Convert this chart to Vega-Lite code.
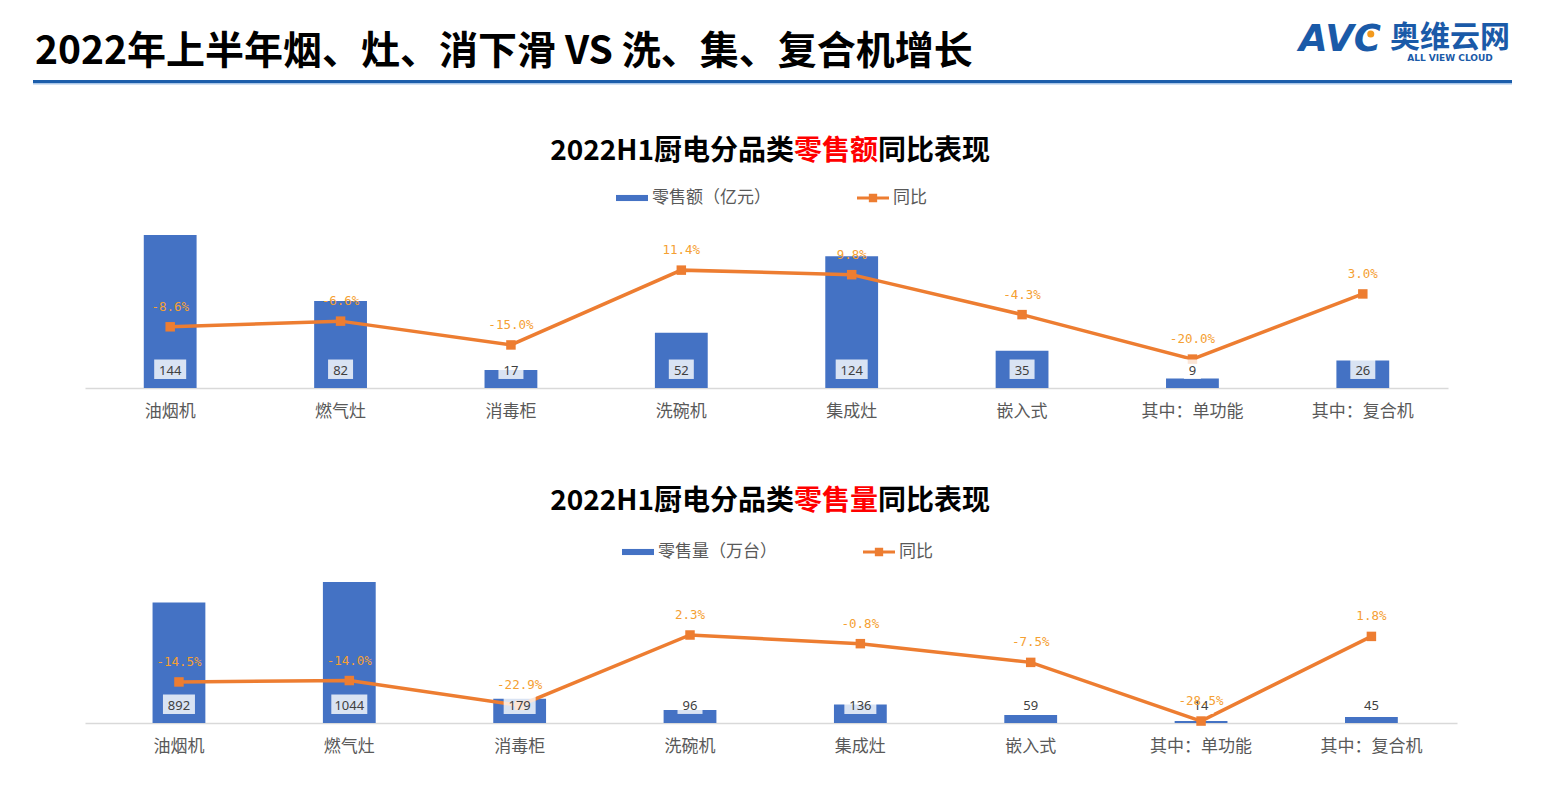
{
  "$schema": "https://vega.github.io/schema/vega-lite/v6.json",
  "padding": {"left": 33, "top": 0, "right": 0, "bottom": 12},
  "background": "#ffffff",
  "spacing": 53,
  "resolve": {"scale": {"x": "independent", "y": "independent", "color": "independent", "shape": "independent", "size": "independent"}},
  "vconcat": [
    {
      "width": 1363,
      "height": 85,
      "data": {"values": [{"title": "2022年上半年烟、灶、消下滑 VS 洗、集、复合机增长", "logo": "AVC", "brand": "奥维云网", "en": "ALL VIEW CLOUD"}]},
      "layer": [
        {
          "mark": {"type": "rect", "color": "#1c5eab"},
          "encoding": {
            "x": {"datum": 0, "type": "quantitative", "scale": {"domain": [0, 1], "range": [-52, 1427], "nice": false, "zero": false}, "axis": null},
            "x2": {"datum": 1},
            "y": {"datum": 80, "type": "quantitative", "scale": {"domain": [0, 85], "reverse": true, "nice": false, "zero": false}, "axis": null},
            "y2": {"datum": 83}
          }
        },
        {
          "mark": {"type": "rect", "color": "#a9c6e8"},
          "encoding": {
            "x": {"datum": 0, "type": "quantitative"},
            "x2": {"datum": 1},
            "y": {"datum": 83, "type": "quantitative"},
            "y2": {"datum": 84.5}
          }
        },
        {
          "mark": {"type": "text", "align": "left", "baseline": "middle", "fontSize": 39, "fontWeight": "bold", "font": "Noto Sans CJK SC", "color": "#000000", "dx": 2},
          "encoding": {"x": {"datum": 0, "type": "quantitative"}, "y": {"datum": 52, "type": "quantitative"}, "text": {"field": "title"}}
        },
        {
          "mark": {"type": "text", "align": "right", "baseline": "middle", "fontSize": 37, "fontWeight": "bold", "fontStyle": "italic", "font": "DejaVu Sans", "color": "#1a5aa8", "dx": -131},
          "encoding": {"x": {"datum": 1, "type": "quantitative"}, "y": {"datum": 40, "type": "quantitative"}, "text": {"field": "logo"}}
        },
        {
          "mark": {"type": "point", "shape": "circle", "filled": true, "size": 50, "color": "#f39a1e", "opacity": 1},
          "encoding": {"x": {"datum": 0.9045, "type": "quantitative"}, "y": {"datum": 34, "type": "quantitative"}}
        },
        {
          "mark": {"type": "text", "align": "right", "baseline": "middle", "fontSize": 30, "fontWeight": "bold", "font": "Noto Sans CJK SC", "color": "#1a5aa8", "dx": -2},
          "encoding": {"x": {"datum": 1, "type": "quantitative"}, "y": {"datum": 38, "type": "quantitative"}, "text": {"field": "brand"}}
        },
        {
          "mark": {"type": "text", "align": "center", "baseline": "middle", "fontSize": 9, "fontWeight": "bold", "font": "DejaVu Sans", "color": "#1a5aa8", "dx": -62},
          "encoding": {"x": {"datum": 1, "type": "quantitative"}, "y": {"datum": 58, "type": "quantitative"}, "text": {"field": "en"}}
        }
      ]
    },
    {
      "spacing": 69,
      "resolve": {"scale": {"x": "independent", "y": "independent", "color": "independent", "shape": "independent", "size": "independent"}},
      "vconcat": [
        {
          "width": 1363,
          "height": 170,
          "title": {"text": "2022H1厨电分品类　　　同比表现", "subtitle": "零售额　　　　\u200b", "anchor": "end", "frame": "group", "dx": -458, "offset": 16, "fontSize": 28, "fontWeight": "bold", "font": "Noto Sans CJK SC", "color": "#000000", "subtitleFontSize": 28, "subtitleFontWeight": "bold", "subtitleFont": "Noto Sans CJK SC", "subtitleColor": "#ff0000", "subtitlePadding": -28},
          "data": {"values": [
            {"cat": "油烟机", "v": 144, "yoy": -0.086},
            {"cat": "燃气灶", "v": 82, "yoy": -0.066},
            {"cat": "消毒柜", "v": 17, "yoy": -0.150},
            {"cat": "洗碗机", "v": 52, "yoy": 0.114},
            {"cat": "集成灶", "v": 124, "yoy": 0.098},
            {"cat": "嵌入式", "v": 35, "yoy": -0.043},
            {"cat": "其中：单功能", "v": 9, "yoy": -0.200},
            {"cat": "其中：复合机", "v": 26, "yoy": 0.030}
          ]},
          "resolve": {"scale": {"y": "independent"}},
          "layer": [
            {
              "mark": {"type": "bar", "color": "#4472c4"},
              "encoding": {
                "x": {"field": "cat", "type": "nominal", "sort": null, "scale": {"paddingInner": 0.69, "paddingOuter": 0.345}, "axis": {"title": null, "domain": true, "domainColor": "#d9d9d9", "domainWidth": 1.5, "ticks": false, "tickSize": 0, "grid": false, "labelAngle": 0, "labelFontSize": 17, "labelColor": "#595959", "labelFont": "Noto Sans CJK SC", "labelPadding": 15}},
                "y": {"field": "v", "type": "quantitative", "scale": {"domain": [0, 160], "nice": false}, "axis": null}
              }
            },
            {
              "encoding": {
                "x": {"field": "cat", "type": "nominal", "sort": null, "axis": {"title": null, "domain": true, "domainColor": "#d9d9d9", "domainWidth": 1.5, "ticks": false, "tickSize": 0, "grid": false, "labelAngle": 0, "labelFontSize": 17, "labelColor": "#595959", "labelFont": "Noto Sans CJK SC", "labelPadding": 15}},
                "y": {"field": "yoy", "type": "quantitative", "scale": {"domain": [-0.302, 0.298], "nice": false, "zero": false}, "axis": null}
              },
              "layer": [
                {"mark": {"type": "line", "color": "#ed7d31", "strokeWidth": 3.5}, "encoding": {"order": {"value": null}}},
                {"mark": {"type": "point", "shape": "square", "filled": true, "size": 90, "color": "#ed7d31", "opacity": 1}}
              ]
            },
            {
              "encoding": {
                "x": {"field": "cat", "type": "nominal", "sort": null, "axis": {"title": null, "domain": true, "domainColor": "#d9d9d9", "domainWidth": 1.5, "ticks": false, "tickSize": 0, "grid": false, "labelAngle": 0, "labelFontSize": 17, "labelColor": "#595959", "labelFont": "Noto Sans CJK SC", "labelPadding": 15}}
              },
              "layer": [
                {"mark": {"type": "bar", "color": "#ffffff", "opacity": 0.8}, "encoding": {"y": {"datum": 8.5, "type": "quantitative", "scale": {"domain": [0, 160], "nice": false}, "axis": null}, "y2": {"datum": 26.8}, "size": {"field": "v", "type": "quantitative", "scale": {"type": "threshold", "domain": [10, 100, 1000], "range": [17, 25, 32, 36]}, "legend": null}}},
                {"mark": {"type": "text", "baseline": "middle", "fontSize": 13, "font": "Noto Sans", "color": "#404040", "dy": -17}, "encoding": {"y": {"datum": 0, "type": "quantitative"}, "text": {"field": "v", "type": "quantitative", "format": "d"}}}
              ]
            },
            {
              "mark": {"type": "text", "baseline": "middle", "fontSize": 12.5, "font": "DejaVu Sans Mono", "color": "#f5a032", "dy": -20},
              "encoding": {
                "x": {"field": "cat", "type": "nominal", "sort": null, "axis": {"title": null, "domain": true, "domainColor": "#d9d9d9", "domainWidth": 1.5, "ticks": false, "tickSize": 0, "grid": false, "labelAngle": 0, "labelFontSize": 17, "labelColor": "#595959", "labelFont": "Noto Sans CJK SC", "labelPadding": 15}},
                "y": {"field": "yoy", "type": "quantitative", "scale": {"domain": [-0.302, 0.298], "nice": false, "zero": false}, "axis": null},
                "text": {"field": "yoy", "type": "quantitative", "format": ".1%"}
              }
            },
            {
              "data": {"values": [{"s": "零售额（亿元）"}, {"s": "同比"}]},
              "mark": {"type": "point", "filled": true, "opacity": 0},
              "encoding": {
                "color": {"field": "s", "type": "nominal", "sort": null, "scale": {"domain": ["零售额（亿元）", "同比"], "range": ["#4472c4", "#ed7d31"]}, "legend": {"orient": "none", "legendX": 531, "legendY": -36, "direction": "horizontal", "title": null, "symbolSize": 1024, "symbolStrokeWidth": 0, "symbolOpacity": 1, "labelFontSize": 17, "labelColor": "#595959", "labelFont": "Noto Sans CJK SC", "labelOffset": 4, "columnPadding": 86, "labelLimit": 300}},
                "shape": {"field": "s", "type": "nominal", "sort": null, "scale": {"domain": ["零售额（亿元）", "同比"], "range": ["M-1,-0.19H1V0.19H-1Z", "M-1,-0.09H1V0.09H-1ZM-0.26,-0.26H0.26V0.26H-0.26Z"]}, "legend": {"orient": "none", "legendX": 531, "legendY": -36, "direction": "horizontal", "title": null, "symbolSize": 1024, "symbolStrokeWidth": 0, "symbolOpacity": 1, "labelFontSize": 17, "labelColor": "#595959", "labelFont": "Noto Sans CJK SC", "labelOffset": 4, "columnPadding": 86, "labelLimit": 300}}
              }
            }
          ]
        },
        {
          "width": 1372,
          "height": 157,
          "title": {"text": "2022H1厨电分品类　　　同比表现", "subtitle": "零售量　　　　\u200b", "anchor": "end", "frame": "group", "dx": -467, "offset": 20, "fontSize": 28, "fontWeight": "bold", "font": "Noto Sans CJK SC", "color": "#000000", "subtitleFontSize": 28, "subtitleFontWeight": "bold", "subtitleFont": "Noto Sans CJK SC", "subtitleColor": "#ff0000", "subtitlePadding": -28},
          "data": {"values": [
            {"cat": "油烟机", "v": 892, "yoy": -0.145},
            {"cat": "燃气灶", "v": 1044, "yoy": -0.140},
            {"cat": "消毒柜", "v": 179, "yoy": -0.229},
            {"cat": "洗碗机", "v": 96, "yoy": 0.023},
            {"cat": "集成灶", "v": 136, "yoy": -0.008},
            {"cat": "嵌入式", "v": 59, "yoy": -0.075},
            {"cat": "其中：单功能", "v": 14, "yoy": -0.285},
            {"cat": "其中：复合机", "v": 45, "yoy": 0.018}
          ]},
          "resolve": {"scale": {"y": "independent"}},
          "layer": [
            {
              "mark": {"type": "bar", "color": "#4472c4"},
              "encoding": {
                "x": {"field": "cat", "type": "nominal", "sort": null, "scale": {"paddingInner": 0.69, "paddingOuter": 0.372, "align": 0.533}, "axis": {"title": null, "domain": true, "domainColor": "#d9d9d9", "domainWidth": 1.5, "ticks": false, "tickSize": 0, "grid": false, "labelAngle": 0, "labelFontSize": 17, "labelColor": "#595959", "labelFont": "Noto Sans CJK SC", "labelPadding": 15}},
                "y": {"field": "v", "type": "quantitative", "scale": {"domain": [0, 1162], "nice": false}, "axis": null}
              }
            },
            {
              "encoding": {
                "x": {"field": "cat", "type": "nominal", "sort": null, "axis": {"title": null, "domain": true, "domainColor": "#d9d9d9", "domainWidth": 1.5, "ticks": false, "tickSize": 0, "grid": false, "labelAngle": 0, "labelFontSize": 17, "labelColor": "#595959", "labelFont": "Noto Sans CJK SC", "labelPadding": 15}},
                "y": {"field": "yoy", "type": "quantitative", "scale": {"domain": [-0.292, 0.270], "nice": false, "zero": false}, "axis": null}
              },
              "layer": [
                {"mark": {"type": "line", "color": "#ed7d31", "strokeWidth": 3.5}, "encoding": {"order": {"value": null}}},
                {"mark": {"type": "point", "shape": "square", "filled": true, "size": 90, "color": "#ed7d31", "opacity": 1}}
              ]
            },
            {
              "encoding": {
                "x": {"field": "cat", "type": "nominal", "sort": null, "axis": {"title": null, "domain": true, "domainColor": "#d9d9d9", "domainWidth": 1.5, "ticks": false, "tickSize": 0, "grid": false, "labelAngle": 0, "labelFontSize": 17, "labelColor": "#595959", "labelFont": "Noto Sans CJK SC", "labelPadding": 15}}
              },
              "layer": [
                {"mark": {"type": "bar", "color": "#ffffff", "opacity": 0.8}, "encoding": {"y": {"datum": 67, "type": "quantitative", "scale": {"domain": [0, 1162], "nice": false}, "axis": null}, "y2": {"datum": 211}, "size": {"field": "v", "type": "quantitative", "scale": {"type": "threshold", "domain": [10, 100, 1000], "range": [17, 25, 32, 36]}, "legend": null}}},
                {"mark": {"type": "text", "baseline": "middle", "fontSize": 13, "font": "Noto Sans", "color": "#404040", "dy": -17}, "encoding": {"y": {"datum": 0, "type": "quantitative"}, "text": {"field": "v", "type": "quantitative", "format": "d"}}}
              ]
            },
            {
              "mark": {"type": "text", "baseline": "middle", "fontSize": 12.5, "font": "DejaVu Sans Mono", "color": "#f5a032", "dy": -20},
              "encoding": {
                "x": {"field": "cat", "type": "nominal", "sort": null, "axis": {"title": null, "domain": true, "domainColor": "#d9d9d9", "domainWidth": 1.5, "ticks": false, "tickSize": 0, "grid": false, "labelAngle": 0, "labelFontSize": 17, "labelColor": "#595959", "labelFont": "Noto Sans CJK SC", "labelPadding": 15}},
                "y": {"field": "yoy", "type": "quantitative", "scale": {"domain": [-0.292, 0.270], "nice": false, "zero": false}, "axis": null},
                "text": {"field": "yoy", "type": "quantitative", "format": ".1%"}
              }
            },
            {
              "data": {"values": [{"s": "零售量（万台）"}, {"s": "同比"}]},
              "mark": {"type": "point", "filled": true, "opacity": 0},
              "encoding": {
                "color": {"field": "s", "type": "nominal", "sort": null, "scale": {"domain": ["零售量（万台）", "同比"], "range": ["#4472c4", "#ed7d31"]}, "legend": {"orient": "none", "legendX": 537, "legendY": -30, "direction": "horizontal", "title": null, "symbolSize": 1024, "symbolStrokeWidth": 0, "symbolOpacity": 1, "labelFontSize": 17, "labelColor": "#595959", "labelFont": "Noto Sans CJK SC", "labelOffset": 4, "columnPadding": 86, "labelLimit": 300}},
                "shape": {"field": "s", "type": "nominal", "sort": null, "scale": {"domain": ["零售量（万台）", "同比"], "range": ["M-1,-0.19H1V0.19H-1Z", "M-1,-0.09H1V0.09H-1ZM-0.26,-0.26H0.26V0.26H-0.26Z"]}, "legend": {"orient": "none", "legendX": 537, "legendY": -30, "direction": "horizontal", "title": null, "symbolSize": 1024, "symbolStrokeWidth": 0, "symbolOpacity": 1, "labelFontSize": 17, "labelColor": "#595959", "labelFont": "Noto Sans CJK SC", "labelOffset": 4, "columnPadding": 86, "labelLimit": 300}}
              }
            }
          ]
        }
      ]
    }
  ],
  "config": {
    "view": {"stroke": null},
    "locale": {"number": {"decimal": ".", "thousands": ",", "grouping": [3], "currency": ["", ""], "minus": "-"}}
  }
}
